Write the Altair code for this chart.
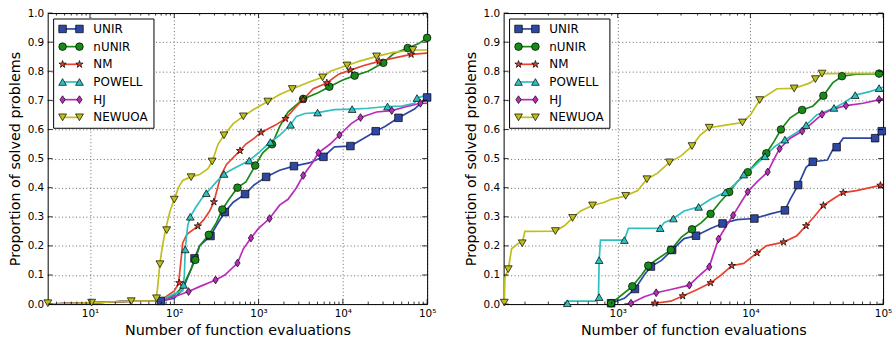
import altair as alt
import pandas as pd

METHODS = ["UNIR", "nUNIR", "NM", "POWELL", "HJ", "NEWUOA"]
COLORS = ["#2e47a3", "#178a17", "#e8412f", "#2fbfbf", "#bb2bbb", "#bfbf1c"]
STAR = ("M0,-1L0.2234,-0.3074L0.9511,-0.309L0.3614,0.1174L0.5878,0.809L0,0.38"
        "L-0.5878,0.809L-0.3614,0.1174L-0.9511,-0.309L-0.2234,-0.3074Z")
THIN_DIAMOND = "M0,-1L0.68,0L0,1L-0.68,0Z"
SHAPES = ["square", "circle", STAR, "triangle-up", THIN_DIAMOND, "triangle-down"]

X_MAJOR = [10, 100, 1000, 10000, 100000]
Y_TICKS = [0.0, 0.1, 0.2, 0.3, 0.4, 0.5, 0.6, 0.7, 0.8, 0.9, 1.0]
LEFT_DOMAIN = [3.15, 100000]
RIGHT_DOMAIN = [138, 100000]

# ---------------- left panel (log10 of evaluations, proportion) ----------------
L_START_LX = [0.5, 1.0, 1.3, 1.5, 1.78]
L_START_Y = [0.0, 0.004, 0.008, 0.01, 0.01]

L_UNIR_LX = [1.85, 2.0, 2.1, 2.2, 2.24, 2.3, 2.43, 2.5, 2.6, 2.7, 2.84, 2.95, 3.09, 3.25, 3.42, 3.6, 3.77, 3.9, 4.09, 4.25, 4.39, 4.5, 4.66, 4.85, 5.0]
L_UNIR_Y = [0.011, 0.02, 0.05, 0.12, 0.157, 0.2, 0.234, 0.27, 0.316, 0.35, 0.378, 0.41, 0.437, 0.46, 0.474, 0.485, 0.506, 0.54, 0.543, 0.57, 0.594, 0.61, 0.64, 0.67, 0.71]
L_UNIR_MX = [1.84, 2.24, 2.43, 2.6, 2.84, 3.09, 3.42, 3.77, 4.09, 4.39, 4.66, 5.0]
L_UNIR_MY = [0.011, 0.157, 0.234, 0.316, 0.378, 0.437, 0.474, 0.506, 0.543, 0.594, 0.64, 0.71]

L_NUNIR_LX = [1.85, 2.0, 2.1, 2.2, 2.25, 2.3, 2.41, 2.5, 2.57, 2.65, 2.75, 2.85, 2.96, 3.05, 3.16, 3.25, 3.35, 3.53, 3.7, 3.84, 4.0, 4.14, 4.3, 4.48, 4.6, 4.77, 4.9, 5.0]
L_NUNIR_Y = [0.015, 0.03, 0.06, 0.12, 0.152, 0.2, 0.238, 0.28, 0.325, 0.36, 0.4, 0.42, 0.476, 0.52, 0.549, 0.61, 0.66, 0.705, 0.725, 0.747, 0.77, 0.785, 0.8, 0.829, 0.86, 0.88, 0.895, 0.915]
L_NUNIR_MX = [2.25, 2.41, 2.57, 2.75, 2.96, 3.16, 3.53, 3.84, 4.14, 4.48, 4.77, 5.0]
L_NUNIR_MY = [0.152, 0.238, 0.325, 0.4, 0.476, 0.549, 0.705, 0.747, 0.785, 0.829, 0.88, 0.915]

L_NM_LX = [1.85, 2.0, 2.05, 2.08, 2.1, 2.15, 2.28, 2.35, 2.42, 2.47, 2.55, 2.62, 2.78, 2.85, 2.95, 3.03, 3.2, 3.32, 3.45, 3.53, 3.65, 3.81, 3.95, 4.09, 4.25, 4.43, 4.6, 4.81, 5.0]
L_NM_Y = [0.015, 0.045, 0.07, 0.15, 0.21, 0.24, 0.268, 0.29, 0.32, 0.351, 0.44, 0.48, 0.527, 0.55, 0.57, 0.59, 0.615, 0.637, 0.68, 0.703, 0.74, 0.76, 0.79, 0.804, 0.82, 0.834, 0.845, 0.858, 0.862]
L_NM_MX = [2.06, 2.28, 2.47, 2.78, 3.03, 3.32, 3.53, 3.81, 4.09, 4.43, 4.81]
L_NM_MY = [0.073, 0.268, 0.351, 0.527, 0.59, 0.637, 0.703, 0.76, 0.804, 0.834, 0.858]

L_POWELL_LX = [1.85, 2.0, 2.1, 2.12, 2.13, 2.16, 2.19, 2.25, 2.32, 2.38, 2.5, 2.59, 2.7, 2.89, 3.0, 3.14, 3.25, 3.38, 3.45, 3.55, 3.7, 3.9, 4.11, 4.3, 4.53, 4.7, 4.85, 4.88, 5.0]
L_POWELL_Y = [0.015, 0.035, 0.045, 0.1, 0.19, 0.27, 0.3, 0.33, 0.36, 0.381, 0.42, 0.447, 0.465, 0.493, 0.52, 0.557, 0.58, 0.616, 0.645, 0.655, 0.658, 0.668, 0.67, 0.673, 0.679, 0.68, 0.69, 0.708, 0.718]
L_POWELL_MX = [2.11, 2.13, 2.19, 2.38, 2.59, 2.89, 3.14, 3.38, 3.7, 4.11, 4.53, 4.88]
L_POWELL_MY = [0.066, 0.188, 0.3, 0.381, 0.447, 0.493, 0.557, 0.616, 0.658, 0.67, 0.679, 0.708]

L_HJ_LX = [1.85, 2.0, 2.17, 2.3, 2.49, 2.6, 2.75, 2.82, 2.91, 3.0, 3.13, 3.25, 3.35, 3.45, 3.53, 3.65, 3.71, 3.85, 3.96, 4.1, 4.21, 4.4, 4.58, 4.75, 4.92, 5.0]
L_HJ_Y = [0.01, 0.025, 0.043, 0.06, 0.083, 0.1, 0.141, 0.19, 0.227, 0.26, 0.294, 0.34, 0.36, 0.4, 0.442, 0.49, 0.52, 0.55, 0.581, 0.62, 0.641, 0.66, 0.665, 0.678, 0.69, 0.69]
L_HJ_MX = [2.17, 2.49, 2.75, 2.91, 3.13, 3.53, 3.71, 3.96, 4.21, 4.58, 4.92]
L_HJ_MY = [0.043, 0.083, 0.141, 0.227, 0.294, 0.442, 0.52, 0.581, 0.641, 0.665, 0.69]

L_NEWUOA_LX = [1.8, 1.83, 1.86, 1.9, 1.95, 2.0, 2.05, 2.1, 2.2, 2.3, 2.4, 2.45, 2.52, 2.59, 2.7, 2.82, 2.95, 3.11, 3.25, 3.4, 3.6, 3.76, 3.85, 4.05, 4.2, 4.4, 4.6, 4.83, 5.0]
L_NEWUOA_Y = [0.05, 0.14, 0.2, 0.26, 0.32, 0.36, 0.4, 0.425, 0.437, 0.445, 0.465, 0.49, 0.55, 0.58, 0.62, 0.645, 0.67, 0.696, 0.72, 0.739, 0.763, 0.779, 0.8, 0.82, 0.835, 0.851, 0.865, 0.873, 0.873]
L_NEWUOA_MX = [0.5, 1.02, 1.49, 1.79, 1.83, 1.91, 2.0, 2.2, 2.45, 2.59, 2.82, 3.11, 3.4, 3.76, 4.05, 4.4, 4.83]
L_NEWUOA_MY = [0.003, 0.005, 0.01, 0.02, 0.137, 0.254, 0.359, 0.436, 0.49, 0.58, 0.645, 0.696, 0.739, 0.779, 0.82, 0.851, 0.873]

# ---------------- right panel ----------------
R_UNIR_LX = [2.93, 2.95, 3.05, 3.13, 3.2, 3.25, 3.33, 3.41, 3.5, 3.59, 3.7, 3.79, 3.9, 4.03, 4.15, 4.26, 4.3, 4.36, 4.42, 4.47, 4.58, 4.62, 4.65, 4.7, 4.94, 4.99, 5.0]
R_UNIR_Y = [0.0, 0.003, 0.02, 0.052, 0.1, 0.129, 0.15, 0.186, 0.225, 0.235, 0.26, 0.277, 0.29, 0.294, 0.31, 0.322, 0.36, 0.409, 0.47, 0.489, 0.495, 0.53, 0.539, 0.57, 0.57, 0.594, 0.6]
R_UNIR_MX = [2.95, 3.13, 3.25, 3.41, 3.59, 3.79, 4.03, 4.26, 4.36, 4.47, 4.65, 4.94, 4.99]
R_UNIR_MY = [0.003, 0.052, 0.129, 0.186, 0.235, 0.277, 0.294, 0.322, 0.409, 0.489, 0.539, 0.57, 0.594]

R_NUNIR_LX = [2.93, 2.95, 3.0, 3.11, 3.18, 3.23, 3.3, 3.4, 3.48, 3.56, 3.63, 3.7, 3.77, 3.84, 3.9, 3.98, 4.05, 4.12, 4.18, 4.23, 4.3, 4.39, 4.47, 4.55, 4.62, 4.69, 4.8, 5.0]
R_NUNIR_Y = [0.0, 0.003, 0.02, 0.061, 0.1, 0.132, 0.155, 0.186, 0.23, 0.257, 0.28, 0.31, 0.35, 0.385, 0.42, 0.453, 0.49, 0.518, 0.56, 0.6, 0.64, 0.667, 0.68, 0.716, 0.76, 0.783, 0.79, 0.792]
R_NUNIR_MX = [2.95, 3.11, 3.23, 3.4, 3.56, 3.7, 3.84, 3.98, 4.12, 4.23, 4.39, 4.55, 4.69, 4.97]
R_NUNIR_MY = [0.003, 0.061, 0.132, 0.186, 0.257, 0.31, 0.385, 0.453, 0.518, 0.6, 0.667, 0.716, 0.783, 0.792]

R_NM_LX = [3.25, 3.28, 3.4, 3.49, 3.6, 3.7, 3.78, 3.86, 3.95, 4.05, 4.12, 4.25, 4.35, 4.42, 4.48, 4.55, 4.62, 4.7, 4.8, 4.98, 5.0]
R_NM_Y = [0.0, 0.003, 0.01, 0.028, 0.05, 0.073, 0.1, 0.132, 0.14, 0.176, 0.2, 0.213, 0.235, 0.269, 0.3, 0.339, 0.36, 0.383, 0.39, 0.408, 0.41]
R_NM_MX = [3.28, 3.49, 3.7, 3.86, 4.05, 4.25, 4.42, 4.55, 4.7, 4.98]
R_NM_MY = [0.003, 0.028, 0.073, 0.132, 0.176, 0.213, 0.269, 0.339, 0.383, 0.408]

R_POWELL_LX = [2.6, 2.62, 2.84, 2.855, 2.86, 2.87, 3.05, 3.08, 3.32, 3.35, 3.42, 3.5, 3.61, 3.7, 3.81, 3.88, 3.95, 4.02, 4.11, 4.18, 4.26, 4.35, 4.42, 4.5, 4.63, 4.7, 4.79, 4.9, 5.0]
R_POWELL_Y = [0.0, 0.01, 0.01, 0.03, 0.15, 0.22, 0.22, 0.26, 0.261, 0.28, 0.294, 0.32, 0.334, 0.36, 0.384, 0.41, 0.445, 0.47, 0.508, 0.54, 0.565, 0.59, 0.615, 0.65, 0.674, 0.69, 0.718, 0.73, 0.745]
R_POWELL_MX = [2.62, 2.86, 2.86, 3.05, 3.32, 3.42, 3.61, 3.81, 3.95, 4.11, 4.26, 4.42, 4.63, 4.79, 4.97]
R_POWELL_MY = [0.003, 0.024, 0.151, 0.22, 0.261, 0.294, 0.334, 0.384, 0.445, 0.508, 0.565, 0.615, 0.674, 0.718, 0.742]

R_HJ_LX = [3.05, 3.1, 3.2, 3.29, 3.4, 3.54, 3.62, 3.69, 3.72, 3.76, 3.82, 3.87, 3.93, 3.98, 4.05, 4.13, 4.18, 4.22, 4.3, 4.39, 4.46, 4.54, 4.62, 4.72, 4.85, 5.0]
R_HJ_Y = [0.0, 0.003, 0.025, 0.039, 0.05, 0.065, 0.1, 0.128, 0.17, 0.224, 0.27, 0.305, 0.35, 0.386, 0.42, 0.454, 0.5, 0.534, 0.57, 0.594, 0.62, 0.652, 0.67, 0.682, 0.69, 0.705]
R_HJ_MX = [3.1, 3.29, 3.54, 3.69, 3.76, 3.87, 3.98, 4.13, 4.22, 4.39, 4.54, 4.72, 4.97]
R_HJ_MY = [0.003, 0.039, 0.065, 0.128, 0.224, 0.305, 0.386, 0.454, 0.534, 0.594, 0.652, 0.682, 0.703]

R_NEWUOA_LX = [2.142, 2.145, 2.15, 2.175, 2.2, 2.25, 2.28, 2.3, 2.53, 2.6, 2.66, 2.72, 2.81, 2.9, 2.95, 3.06, 3.15, 3.22, 3.3, 3.39, 3.48, 3.56, 3.62, 3.69, 3.8, 3.94, 4.0, 4.07, 4.2, 4.33, 4.45, 4.49, 4.54, 5.0]
R_NEWUOA_Y = [0.0, 0.005, 0.09, 0.12, 0.19, 0.209, 0.209, 0.25, 0.251, 0.27, 0.296, 0.32, 0.339, 0.35, 0.36, 0.372, 0.39, 0.429, 0.45, 0.487, 0.51, 0.543, 0.58, 0.606, 0.614, 0.624, 0.65, 0.701, 0.74, 0.741, 0.76, 0.773, 0.792, 0.793]
R_NEWUOA_MX = [2.145, 2.175, 2.28, 2.53, 2.66, 2.81, 3.06, 3.22, 3.39, 3.56, 3.69, 3.94, 4.07, 4.33, 4.49, 4.54]
R_NEWUOA_MY = [0.005, 0.12, 0.209, 0.251, 0.296, 0.339, 0.372, 0.429, 0.487, 0.543, 0.606, 0.624, 0.701, 0.741, 0.773, 0.792]

LEFT_CURVES = {
    "UNIR": (L_START_LX + L_UNIR_LX, L_START_Y + L_UNIR_Y, L_UNIR_MX, L_UNIR_MY),
    "nUNIR": (L_START_LX + L_NUNIR_LX, L_START_Y + L_NUNIR_Y, L_NUNIR_MX, L_NUNIR_MY),
    "NM": (L_START_LX + L_NM_LX, L_START_Y + L_NM_Y, L_NM_MX, L_NM_MY),
    "POWELL": (L_START_LX + L_POWELL_LX, L_START_Y + L_POWELL_Y, L_POWELL_MX, L_POWELL_MY),
    "HJ": (L_START_LX + L_HJ_LX, L_START_Y + L_HJ_Y, L_HJ_MX, L_HJ_MY),
    "NEWUOA": (L_START_LX + L_NEWUOA_LX, L_START_Y + L_NEWUOA_Y, L_NEWUOA_MX, L_NEWUOA_MY),
}
RIGHT_CURVES = {
    "UNIR": (R_UNIR_LX, R_UNIR_Y, R_UNIR_MX, R_UNIR_MY),
    "nUNIR": (R_NUNIR_LX, R_NUNIR_Y, R_NUNIR_MX, R_NUNIR_MY),
    "NM": (R_NM_LX, R_NM_Y, R_NM_MX, R_NM_MY),
    "POWELL": (R_POWELL_LX, R_POWELL_Y, R_POWELL_MX, R_POWELL_MY),
    "HJ": (R_HJ_LX, R_HJ_Y, R_HJ_MX, R_HJ_MY),
    "NEWUOA": (R_NEWUOA_LX, R_NEWUOA_Y, R_NEWUOA_MX, R_NEWUOA_MY),
}

W, H = 382, 293
FONT = "DejaVu Sans"
SIZES = {"UNIR": 58, "nUNIR": 62, "NM": 60, "POWELL": 72, "HJ": 90, "NEWUOA": 72}

color_scale = alt.Scale(domain=METHODS, range=COLORS)
shape_scale = alt.Scale(domain=METHODS, range=SHAPES)
size_scale = alt.Scale(domain=METHODS, range=[SIZES[m] for m in METHODS])

LABEL_EXPR = ("datum.value == 10 ? '10¹' : datum.value == 100 ? '10²' : "
              "datum.value == 1000 ? '10³' : datum.value == 10000 ? '10⁴' : '10⁵'")

LEG_ROW0, LEG_STEP = 16, 17.8


def build_panel(curves, domain):
    line_rows, mark_rows = [], []
    for m in METHODS:
        lx, ly, mx, my = curves[m]
        for i, (a, b) in enumerate(zip(lx, ly)):
            line_rows.append({"method": m, "i": i, "x": 10 ** a, "y": b})
        for a, b in zip(mx, my):
            mark_rows.append({"method": m, "x": 10 ** a, "y": b})
    lines_df = pd.DataFrame(line_rows)
    marks_df = pd.DataFrame(mark_rows)

    xs = alt.Scale(type="log", domain=domain, nice=False)
    ys = alt.Scale(domain=[0, 1], nice=False, zero=False)
    x_axis = alt.Axis(values=X_MAJOR, labelExpr=LABEL_EXPR,
                      title="Number of function evaluations")
    y_axis = alt.Axis(values=Y_TICKS, format=".1f",
                      title="Proportion of solved problems")

    def X():
        return alt.X("x:Q", scale=xs, axis=x_axis)

    def Y():
        return alt.Y("y:Q", scale=ys, axis=y_axis)

    lines = alt.Chart(lines_df).mark_line(strokeWidth=1.7, clip=True).encode(
        x=X(), y=Y(),
        color=alt.Color("method:N", scale=color_scale, legend=None,
                        sort=METHODS),
        order="i:Q",
    )
    points = alt.Chart(marks_df).mark_point(
        filled=True, opacity=1, stroke="black", strokeWidth=0.7
    ).encode(
        x=X(), y=Y(),
        fill=alt.Fill("method:N", scale=color_scale, legend=None),
        shape=alt.Shape("method:N", scale=shape_scale, legend=None),
        size=alt.Size("method:N", scale=size_scale, legend=None),
    )

    lo, hi = domain
    minor = [k * 10 ** e for e in range(0, 6) for k in range(2, 10)
             if lo <= k * 10 ** e <= hi]
    major = [v for v in X_MAJOR if lo <= v <= hi]
    maj_df = pd.DataFrame({"x": major})
    min_df = pd.DataFrame({"x": minor})
    yt_df = pd.DataFrame({"y": Y_TICKS})

    def xticks(df, y0, y1):
        return alt.Chart(df).mark_rule(color="black", strokeWidth=0.8).encode(
            x=X(), y=alt.value(y0), y2=alt.value(y1))

    def yticks(x0, x1):
        return alt.Chart(yt_df).mark_rule(color="black", strokeWidth=0.8).encode(
            y=Y(), x=alt.value(x0), x2=alt.value(x1))

    ticks = [
        xticks(maj_df, H, H - 5), xticks(maj_df, 0, 5),
        xticks(min_df, H, H - 2.5), xticks(min_df, 0, 2.5),
        yticks(0, 5), yticks(W - 5, W),
    ]

    # legend (drawn inside the plot, upper left)
    box = alt.Chart(pd.DataFrame({"a": [0]})).mark_rect(
        fill="white", stroke="black", strokeWidth=1).encode(
        x=alt.value(6), x2=alt.value(107), y=alt.value(6), y2=alt.value(116))
    leg = [box]
    for k, m in enumerate(METHODS):
        row = pd.DataFrame({"method": [m]})
        yy = alt.value(LEG_ROW0 + k * LEG_STEP)
        leg.append(alt.Chart(row).mark_rule(strokeWidth=1.7).encode(
            y=yy, x=alt.value(15), x2=alt.value(32),
            color=alt.Color("method:N", scale=color_scale, legend=None)))
        for px in (15, 32):
            leg.append(alt.Chart(row).mark_point(
                filled=True, opacity=1, stroke="black", strokeWidth=0.7).encode(
                y=yy, x=alt.value(px),
                fill=alt.Fill("method:N", scale=color_scale, legend=None),
                shape=alt.Shape("method:N", scale=shape_scale, legend=None),
                size=alt.Size("method:N", scale=size_scale, legend=None)))
        leg.append(alt.Chart(row).mark_text(
            align="left", baseline="middle", font=FONT, fontSize=12,
            color="black").encode(y=yy, x=alt.value(46), text="method:N"))

    return alt.layer(lines, points, *ticks, *leg).properties(width=W, height=H)


left = build_panel(LEFT_CURVES, LEFT_DOMAIN)
right = build_panel(RIGHT_CURVES, RIGHT_DOMAIN)

chart = alt.hconcat(left, right, spacing=25).properties(
    padding={"left": 6, "top": 6, "right": 0, "bottom": 0}
).configure_view(stroke="black", strokeWidth=1).configure_axis(
    labelFont=FONT, labelFontSize=10.5, labelColor="black",
    titleFont=FONT, titleFontSize=14.4, titleFontWeight="normal",
    titleColor="black", domain=False, ticks=False, grid=True,
    gridColor="black", gridDash=[1, 2.5], gridOpacity=0.75, gridWidth=0.8,
    labelPadding=4, titlePadding=5, labelOverlap=False, labelFlush=False,
)

chart.save("out.html", embed_options={"renderer": "svg", "actions": False})
